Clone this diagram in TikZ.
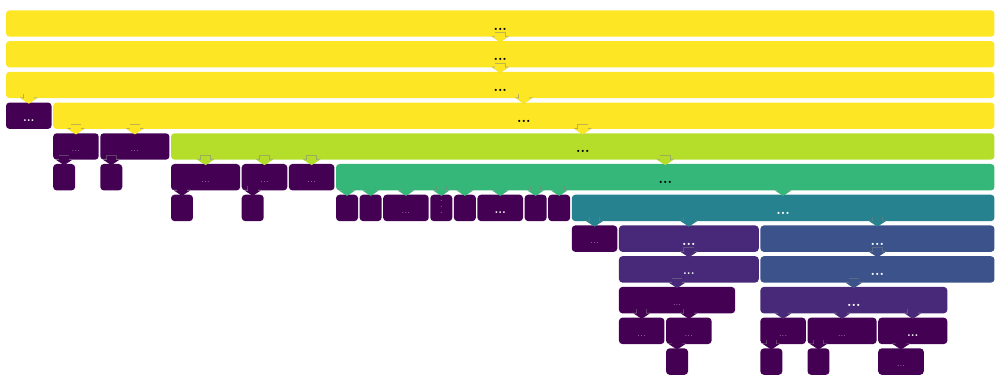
\documentclass[tikz,border=0pt]{standalone}
\usetikzlibrary{arrows.meta}

\definecolor{vyellow}{HTML}{FDE725}
\definecolor{vlime}{HTML}{B5DE2B}
\definecolor{vgreen}{HTML}{35B779}
\definecolor{vteal}{HTML}{26828E}
\definecolor{vblue}{HTML}{3B528B}
\definecolor{vpurple}{HTML}{482878}
\definecolor{vdark}{HTML}{440154}

\begin{document}
\begin{tikzpicture}[x=0.5893cm, y=-0.76825cm]
	\tikzstyle{BOX} = [rounded corners=2.5pt, minimum height=0.66cm, inner sep=0pt, text height=2ex, text depth=0.25ex]
	\tikzset{span/.style={BOX, minimum width=#1*0.5893cm-0.04cm}}
	\tikzstyle{big} = [font=\bfseries, text height=2.4ex]
	\tikzstyle{bigw} = [font=\bfseries, text height=2.4ex, text=white]
	\tikzstyle{mid} = [font=\footnotesize\bfseries, text=white]
	\tikzstyle{small} = [font=\tiny, text=white]
	\tikzset{flow/.style={line width=6.8pt, draw=#1, -{Triangle[width=11.4pt,length=3.8pt]},
		preaction={draw=gray, opacity=0.5, line width=7.6pt, shorten <=-0.4pt, -{Triangle[width=12.6pt,length=4.4pt]}}}}

	\useasboundingbox (-0.2206,-0.766) rectangle (42.2,11.632);

	% levels 0-3
	\node[span=42, fill=vyellow, big] (R0) at (21,0) {...};
	\node[span=42, fill=vyellow, big] (R1) at (21,1) {...};
	\node[span=42, fill=vyellow, big] (R2) at (21,2) {...};
	\node[span=2, fill=vdark, mid] (A3) at (1,3) {...};
	\node[span=40, fill=vyellow, big] (B3) at (22,3) {...};

	% level 4
	\node[span=2, fill=vdark, small] (C4a) at (3,4) {...};
	\node[span=3, fill=vdark, small] (C4b) at (5.5,4) {...};
	\node[span=35, fill=vlime, big] (C4c) at (24.5,4) {...};

	% level 5
	\node[span=1, fill=vdark] (D5a) at (2.5,5) {};
	\node[span=1, fill=vdark] (D5b) at (4.5,5) {};
	\node[span=3, fill=vdark, small] (D5c) at (8.5,5) {...};
	\node[span=2, fill=vdark, small] (D5d) at (11,5) {...};
	\node[span=2, fill=vdark, small] (D5e) at (13,5) {...};
	\node[span=28, fill=vgreen, big] (D5f) at (28,5) {...};

	% level 6
	\node[span=1, fill=vdark] (E6a) at (7.5,6) {};
	\node[span=1, fill=vdark] (E6b) at (10.5,6) {};
	\node[span=1, fill=vdark] (E6c) at (14.5,6) {};
	\node[span=1, fill=vdark] (E6d) at (15.5,6) {};
	\node[span=2, fill=vdark, small] (E6e) at (17,6) {...};
	\node[span=1, fill=vdark, small] (E6f) at (18.5,6) {$\vdots$};
	\node[span=1, fill=vdark] (E6g) at (19.5,6) {};
	\node[span=2, fill=vdark, mid] (E6h) at (21,6) {...};
	\node[span=1, fill=vdark] (E6i) at (22.5,6) {};
	\node[span=1, fill=vdark] (E6j) at (23.5,6) {};
	\node[span=18, fill=vteal, bigw] (E6k) at (33,6) {...};

	% levels 7-8
	\node[span=2, fill=vdark, small] (F7a) at (25,7) {...};
	\node[span=6, fill=vpurple, bigw] (F7b) at (29,7) {...};
	\node[span=10, fill=vblue, bigw] (F7c) at (37,7) {...};
	\node[span=6, fill=vpurple, mid] (G8a) at (29,8) {...};
	\node[span=10, fill=vblue, bigw] (G8b) at (37,8) {...};

	% levels 9-11
	\node[span=5, fill=vdark, small] (H9a) at (28.5,9) {...};
	\node[span=8, fill=vpurple, bigw] (H9b) at (36,9) {...};
	\node[span=2, fill=vdark, small] (I10a) at (27,10) {...};
	\node[span=2, fill=vdark, small] (I10b) at (29,10) {...};
	\node[span=2, fill=vdark, small] (I10c) at (33,10) {...};
	\node[span=3, fill=vdark, small] (I10d) at (35.5,10) {...};
	\node[span=3, fill=vdark, mid] (I10e) at (38.5,10) {...};
	\node[span=1, fill=vdark] (J11a) at (28.5,11) {};
	\node[span=1, fill=vdark] (J11b) at (32.5,11) {};
	\node[span=1, fill=vdark] (J11c) at (34.5,11) {};
	\node[span=2, fill=vdark, small] (J11d) at (38,11) {...};

	% parent -> child
	\draw[flow=vyellow] ([yshift=3pt]R0.south -| R1.north) -- ([yshift=-1pt]R1.north);
	\draw[flow=vyellow] ([yshift=3pt]R1.south -| R2.north) -- ([yshift=-1pt]R2.north);
	\draw[flow=vyellow] ([yshift=3pt]R2.south -| A3.north) -- ([yshift=-1pt]A3.north);
	\draw[flow=vyellow] ([yshift=3pt]R2.south -| B3.north) -- ([yshift=-1pt]B3.north);
	\draw[flow=vyellow] ([yshift=3pt]B3.south -| C4a.north) -- ([yshift=-1pt]C4a.north);
	\draw[flow=vyellow] ([yshift=3pt]B3.south -| C4b.north) -- ([yshift=-1pt]C4b.north);
	\draw[flow=vyellow] ([yshift=3pt]B3.south -| C4c.north) -- ([yshift=-1pt]C4c.north);
	\draw[flow=vdark] ([yshift=3pt]C4a.south -| D5a.north) -- ([yshift=-1pt]D5a.north);
	\draw[flow=vdark] ([yshift=3pt]C4b.south -| D5b.north) -- ([yshift=-1pt]D5b.north);
	\draw[flow=vlime] ([yshift=3pt]C4c.south -| D5c.north) -- ([yshift=-1pt]D5c.north);
	\draw[flow=vlime] ([yshift=3pt]C4c.south -| D5d.north) -- ([yshift=-1pt]D5d.north);
	\draw[flow=vlime] ([yshift=3pt]C4c.south -| D5e.north) -- ([yshift=-1pt]D5e.north);
	\draw[flow=vlime] ([yshift=3pt]C4c.south -| D5f.north) -- ([yshift=-1pt]D5f.north);
	\draw[flow=vdark] ([yshift=3pt]D5c.south -| E6a.north) -- ([yshift=-1pt]E6a.north);
	\draw[flow=vdark] ([yshift=3pt]D5d.south -| E6b.north) -- ([yshift=-1pt]E6b.north);
	\draw[flow=vgreen] ([yshift=3pt]D5f.south -| E6c.north) -- ([yshift=-1pt]E6c.north);
	\draw[flow=vgreen] ([yshift=3pt]D5f.south -| E6d.north) -- ([yshift=-1pt]E6d.north);
	\draw[flow=vgreen] ([yshift=3pt]D5f.south -| E6e.north) -- ([yshift=-1pt]E6e.north);
	\draw[flow=vgreen] ([yshift=3pt]D5f.south -| E6f.north) -- ([yshift=-1pt]E6f.north);
	\draw[flow=vgreen] ([yshift=3pt]D5f.south -| E6g.north) -- ([yshift=-1pt]E6g.north);
	\draw[flow=vgreen] ([yshift=3pt]D5f.south -| E6h.north) -- ([yshift=-1pt]E6h.north);
	\draw[flow=vgreen] ([yshift=3pt]D5f.south -| E6i.north) -- ([yshift=-1pt]E6i.north);
	\draw[flow=vgreen] ([yshift=3pt]D5f.south -| E6j.north) -- ([yshift=-1pt]E6j.north);
	\draw[flow=vgreen] ([yshift=3pt]D5f.south -| E6k.north) -- ([yshift=-1pt]E6k.north);
	\draw[flow=vteal] ([yshift=3pt]E6k.south -| F7a.north) -- ([yshift=-1pt]F7a.north);
	\draw[flow=vteal] ([yshift=3pt]E6k.south -| F7b.north) -- ([yshift=-1pt]F7b.north);
	\draw[flow=vteal] ([yshift=3pt]E6k.south -| F7c.north) -- ([yshift=-1pt]F7c.north);
	\draw[flow=vpurple] ([yshift=3pt]F7b.south -| G8a.north) -- ([yshift=-1pt]G8a.north);
	\draw[flow=vblue] ([yshift=3pt]F7c.south -| G8b.north) -- ([yshift=-1pt]G8b.north);
	\draw[flow=vpurple] ([yshift=3pt]G8a.south -| H9a.north) -- ([yshift=-1pt]H9a.north);
	\draw[flow=vblue] ([yshift=3pt]G8b.south -| H9b.north) -- ([yshift=-1pt]H9b.north);
	\draw[flow=vdark] ([yshift=3pt]H9a.south -| I10a.north) -- ([yshift=-1pt]I10a.north);
	\draw[flow=vdark] ([yshift=3pt]H9a.south -| I10b.north) -- ([yshift=-1pt]I10b.north);
	\draw[flow=vpurple] ([yshift=3pt]H9b.south -| I10c.north) -- ([yshift=-1pt]I10c.north);
	\draw[flow=vpurple] ([yshift=3pt]H9b.south -| I10d.north) -- ([yshift=-1pt]I10d.north);
	\draw[flow=vpurple] ([yshift=3pt]H9b.south -| I10e.north) -- ([yshift=-1pt]I10e.north);
	\draw[flow=vdark] ([yshift=3pt]I10b.south -| J11a.north) -- ([yshift=-1pt]J11a.north);
	\draw[flow=vdark] ([yshift=3pt]I10c.south -| J11b.north) -- ([yshift=-1pt]J11b.north);
	\draw[flow=vdark] ([yshift=3pt]I10d.south -| J11c.north) -- ([yshift=-1pt]J11c.north);
	\draw[flow=vdark] ([yshift=3pt]I10e.south -| J11d.north) -- ([yshift=-1pt]J11d.north);
	%\node[span=1, fill=vdark] at (0.5,4) {};
\end{tikzpicture}
\end{document}
